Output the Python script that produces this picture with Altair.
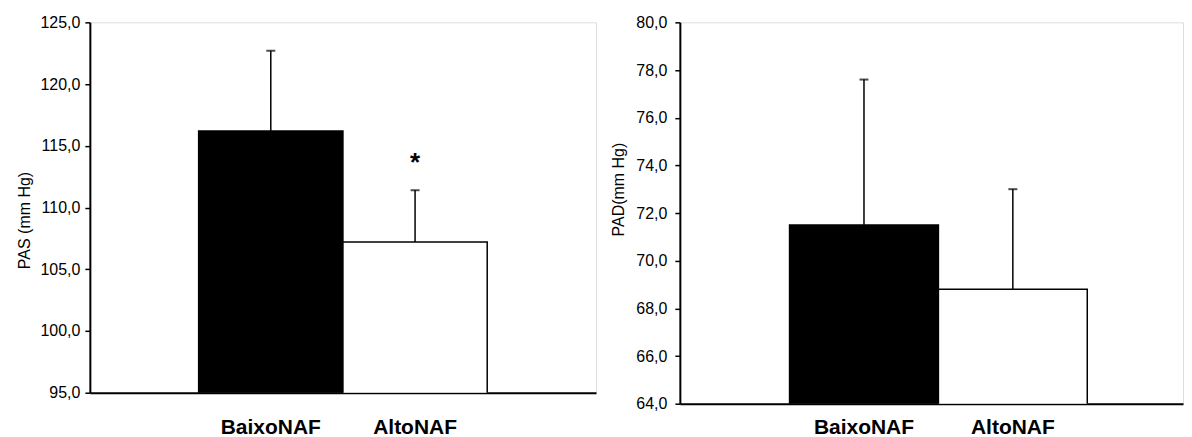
import altair as alt
import pandas as pd

groups = ["BaixoNAF", "AltoNAF"]
pas_mean = [116.2, 107.2]
pas_sd = [6.5, 4.2]
pad_mean = [71.5, 68.8]
pad_sd = [6.1, 4.2]
star_group = ["AltoNAF"]
star_value = [114.0]
pas_ticks = [95, 100, 105, 110, 115, 120, 125]
pad_ticks = [64, 66, 68, 70, 72, 74, 76, 78, 80]

FONT = "Liberation Sans"
LABEL_EXPR = "replace(format(datum.value, '.1f'), '.', ',')"


def panel(means, sds, ytitle, domain, ticks, width, height, pad_outer, align,
          label_pad_x, title_pad, label_pad_y, title_y, star=False):
    df = pd.DataFrame({"grupo": groups, "media": means, "dp": sds})
    xscale = alt.Scale(domain=groups, paddingInner=0, paddingOuter=pad_outer, align=align)
    x = alt.X("grupo:N", scale=xscale, sort=groups,
              axis=alt.Axis(title=None, labelAngle=0, ticks=False, labelFontSize=21,
                            labelFontWeight="bold", labelFont=FONT, labelColor="black",
                            labelPadding=label_pad_x, domainColor="black", domainWidth=2))
    yscale = alt.Scale(domain=domain, nice=False, zero=False)
    y = alt.Y("media:Q", scale=yscale,
              axis=alt.Axis(title=ytitle, values=ticks, labelExpr=LABEL_EXPR, grid=False,
                            labelFontSize=16, labelFont=FONT, labelColor="black",
                            labelPadding=label_pad_y, tickSize=5, tickWidth=1.5,
                            tickColor="black", domainColor="black", domainWidth=2,
                            titleFont=FONT, titleFontSize=16, titleFontWeight="normal",
                            titleColor="black", titlePadding=title_pad, titleY=title_y))
    base = alt.Chart(df).transform_calculate(topo="datum.media + datum.dp")
    bars = base.mark_bar(stroke="black", strokeWidth=1.5, clip=True).encode(
        x=x, y=y,
        color=alt.Color("grupo:N", scale=alt.Scale(domain=groups, range=["black", "white"]),
                        legend=None))
    rule = base.mark_rule(color="black", strokeWidth=1.5).encode(
        x=alt.X("grupo:N", scale=xscale, sort=groups),
        y=alt.Y("media:Q", scale=yscale),
        y2="topo:Q")
    cap = base.mark_tick(color="black", size=9, thickness=2, orient="horizontal").encode(
        x=alt.X("grupo:N", scale=xscale, sort=groups),
        y=alt.Y("topo:Q", scale=yscale))
    layers = [bars, rule, cap]
    if star:
        sdf = pd.DataFrame({"grupo": star_group, "v": star_value})
        st = alt.Chart(sdf).mark_text(text="*", fontSize=26, fontWeight="bold", font=FONT,
                                      color="black", baseline="middle", dy=5).encode(
            x=alt.X("grupo:N", scale=xscale, sort=groups),
            y=alt.Y("v:Q", scale=yscale))
        layers.append(st)
    return alt.layer(*layers).properties(width=width, height=height)


left = panel(pas_mean, pas_sd, "PAS (mm Hg)", [95, 125], pas_ticks, 507, 371, 0.754, 0.5,
             24, 7, 5, 198, star=True)
right = panel(pad_mean, pad_sd, "PAD(mm Hg)", [64, 80], pad_ticks, 504, 382, 0.69, 0.534,
              13, 9, 8, 167)

chart = alt.hconcat(left, right, spacing=13).properties(
    padding={"left": 8, "top": 5, "right": 0, "bottom": 0}
).configure_view(stroke=None).configure(background="white")

chart.save("out.html", embed_options={"renderer": "svg", "actions": False})
